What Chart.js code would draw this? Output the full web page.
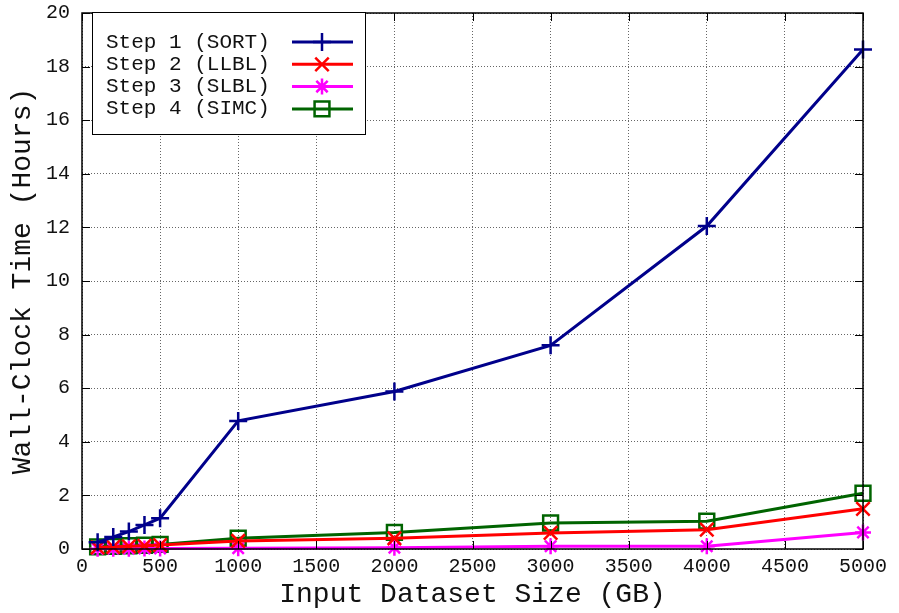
<!DOCTYPE html>
<html>
<head>
<meta charset="utf-8">
<title>Wall-Clock Time per Step</title>
<script src="https://cdn.jsdelivr.net/npm/chart.js@4.4.1/dist/chart.umd.min.js"></script>
<style>
  html, body { margin: 0; padding: 0; background: #fff; }
  canvas { display: block; }
</style>
</head>
<body>
<canvas id="timeChart" width="899" height="613"></canvas>
<script>
// input dataset sizes (GB)
const sizes = [100, 200, 300, 400, 500, 1000, 2000, 3000, 4000, 5000];

// wall-clock hours per step
const sortHours = [0.25, 0.45, 0.65, 0.9, 1.15, 4.78, 5.88, 7.6, 12.05, 18.64];
const llblHours = [0.06, 0.08, 0.1, 0.12, 0.15, 0.3, 0.4, 0.6, 0.72, 1.5];
const slblHours = [0.01, 0.01, 0.01, 0.02, 0.02, 0.03, 0.05, 0.1, 0.1, 0.62];
const simcHours = [0.08, 0.1, 0.12, 0.14, 0.17, 0.4, 0.62, 0.97, 1.04, 2.08];

const stepLabels = ['Step 1 (SORT)', 'Step 2 (LLBL)', 'Step 3 (SLBL)', 'Step 4 (SIMC)'];

const xTicks = { min: 0, max: 5000, step: 500 };
const yTicks = { min: 0, max: 20, step: 2 };

const MONO = "'Liberation Mono', 'DejaVu Sans Mono', monospace";

function toPoints(values) {
  return sizes.map((s, i) => ({ x: s, y: values[i] }));
}

function series(label, values, color, style, radius) {
  return {
    label,
    data: toPoints(values),
    borderColor: color,
    backgroundColor: 'rgba(0,0,0,0)',
    borderWidth: 3,
    pointStyle: style,
    pointRadius: radius,
    pointHoverRadius: radius,
    pointBorderWidth: 2.5,
    pointBorderColor: color,
    pointBackgroundColor: 'rgba(0,0,0,0)',
    tension: 0,
    clip: false
  };
}

// no extra room for overhanging end labels, layout padding handles it
function noOverhang(scale) {
  scale.paddingTop = 0;
  scale.paddingBottom = 0;
  scale.paddingLeft = 0;
  scale.paddingRight = 0;
}

// frame with inward ticks on all four sides, like gnuplot
const framePlugin = {
  id: 'frame',
  afterDatasetsDraw(chart) {
    const { ctx, chartArea: a, scales } = chart;
    ctx.save();
    ctx.strokeStyle = '#000';
    ctx.lineWidth = 1;
    const len = 8;
    ctx.beginPath();
    scales.x.ticks.forEach(t => {
      const px = Math.round(scales.x.getPixelForValue(t.value)) + 0.5;
      ctx.moveTo(px, a.bottom); ctx.lineTo(px, a.bottom - len);
      ctx.moveTo(px, a.top); ctx.lineTo(px, a.top + len);
    });
    scales.y.ticks.forEach(t => {
      const py = Math.round(scales.y.getPixelForValue(t.value)) + 0.5;
      ctx.moveTo(a.left, py); ctx.lineTo(a.left + len, py);
      ctx.moveTo(a.right, py); ctx.lineTo(a.right - len, py);
    });
    ctx.stroke();
    ctx.lineWidth = 1.5;
    ctx.strokeRect(a.left, a.top, a.right - a.left, a.bottom - a.top);
    ctx.restore();
  }
};

// legend box in the top-left of the plot
const legendPlugin = {
  id: 'boxLegend',
  afterDraw(chart) {
    const { ctx } = chart;
    const box = { x: 92.5, y: 12.5, w: 273, h: 122 };
    ctx.save();
    ctx.fillStyle = '#fff';
    ctx.fillRect(box.x, box.y, box.w, box.h);
    ctx.strokeStyle = '#000';
    ctx.lineWidth = 1;
    ctx.strokeRect(box.x, box.y, box.w, box.h);
    chart.data.datasets.forEach((ds, i) => {
      const y = 42 + i * 22.3;
      ctx.fillStyle = '#111';
      ctx.font = '21px ' + MONO;
      ctx.textAlign = 'left';
      ctx.textBaseline = 'middle';
      ctx.fillText(ds.label, 106, y);
      ctx.strokeStyle = ds.borderColor;
      ctx.lineWidth = 3;
      ctx.beginPath();
      ctx.moveTo(292, y);
      ctx.lineTo(353, y);
      ctx.stroke();
      ctx.lineWidth = ds.pointBorderWidth;
      ctx.fillStyle = 'rgba(0,0,0,0)';
      Chart.helpers.drawPoint(ctx, {
        pointStyle: ds.pointStyle,
        radius: ds.pointRadius,
        borderWidth: ds.pointBorderWidth,
        rotation: 0
      }, 322, y);
    });
    ctx.restore();
  }
};

new Chart(document.getElementById('timeChart'), {
  type: 'line',
  data: {
    datasets: [
      series(stepLabels[0], sortHours, '#00008b', 'cross', 9),
      series(stepLabels[1], llblHours, '#ff0000', 'crossRot', 9.5),
      series(stepLabels[2], slblHours, '#ff00ff', 'star', 8),
      series(stepLabels[3], simcHours, '#006400', 'rect', 10.5)
    ]
  },
  options: {
    responsive: false,
    animation: false,
    layout: { padding: { left: 0, top: 5, right: 36, bottom: 0 } },
    plugins: {
      legend: { display: false },
      tooltip: { enabled: false }
    },
    scales: {
      x: {
        type: 'linear',
        min: xTicks.min,
        max: xTicks.max,
        afterFit(scale) { scale.height = 64; noOverhang(scale); },
        ticks: {
          stepSize: xTicks.step,
          padding: 6,
          color: '#111',
          font: { family: MONO, size: 20 },
          maxRotation: 0,
          callback: v => String(v)
        },
        grid: {
          drawTicks: false,
          color: 'rgba(0,0,0,0.6)',
          lineWidth: 1
        },
        border: { display: false, dash: [1, 2] },
        title: {
          display: true,
          text: 'Input Dataset Size (GB)',
          color: '#111',
          font: { family: MONO, size: 28 },
          padding: { top: 0, bottom: 2 }
        }
      },
      y: {
        type: 'linear',
        min: yTicks.min,
        max: yTicks.max,
        afterFit(scale) { scale.width = 82; noOverhang(scale); },
        ticks: {
          stepSize: yTicks.step,
          padding: 12,
          color: '#111',
          font: { family: MONO, size: 20 },
          callback: v => String(v)
        },
        grid: {
          drawTicks: false,
          color: 'rgba(0,0,0,0.6)',
          lineWidth: 1
        },
        border: { display: false, dash: [1, 2] },
        title: {
          display: true,
          text: 'Wall-Clock Time (Hours)',
          color: '#111',
          font: { family: MONO, size: 28 },
          padding: { top: 6, bottom: 0 }
        }
      }
    }
  },
  plugins: [framePlugin, legendPlugin]
});
</script>
</body>
</html>
